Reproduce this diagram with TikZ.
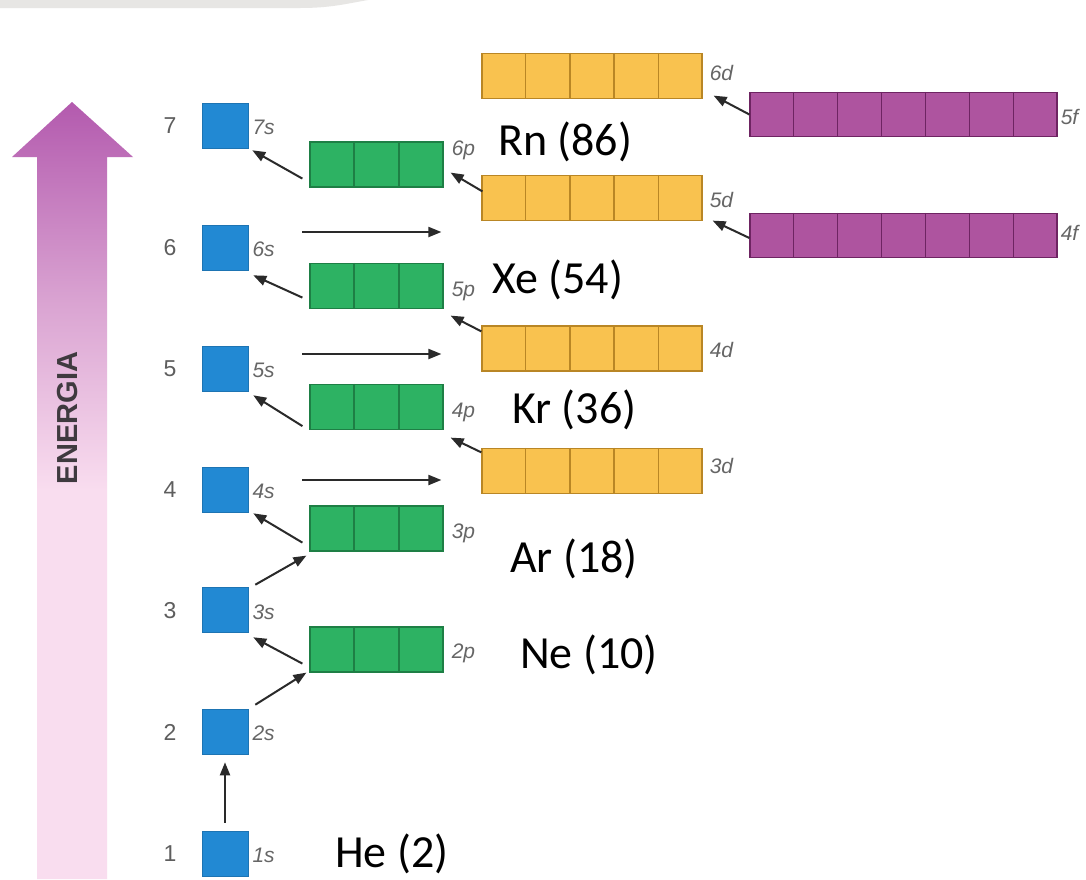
\documentclass[tikz,border=0pt]{standalone}
\usepackage{fontspec}
\setmainfont{Liberation Sans}
\newfontfamily\calibri{Carlito}
\usetikzlibrary{arrows.meta,calc}
\definecolor{sblue}{HTML}{2289D3}
\definecolor{pgreen}{HTML}{2DB263}
\definecolor{pgreenD}{HTML}{1E7F45}
\definecolor{dyellow}{HTML}{F9C24F}
\definecolor{dyellowD}{HTML}{B98625}
\definecolor{fpurple}{HTML}{AE549F}
\definecolor{fpurpleD}{HTML}{6E2462}
\definecolor{lvlgray}{HTML}{5E5E5E}
\definecolor{orbgray}{HTML}{666666}
\definecolor{arrgray}{HTML}{2A2A2A}
\definecolor{elight}{HTML}{F9DDEF}
\definecolor{emid}{HTML}{DAA4D2}
\definecolor{edark}{HTML}{B35AAE}
\definecolor{topgray}{HTML}{E7E6E4}
\definecolor{energtext}{HTML}{3F3A3F}
\pgfdeclareverticalshading{energyshade}{100bp}{color(0bp)=(elight); color(50bp)=(elight); color(62bp)=(emid); color(75bp)=(edark); color(100bp)=(edark)}
\tikzset{
  sbox/.style={fill=sblue, draw=sblue!85!black, line width=0.6pt, minimum width=46pt, minimum height=45pt, inner sep=0pt},
  pbox/.style={fill=pgreen, draw=pgreenD, line width=1.2pt, minimum width=133pt, minimum height=45pt, inner sep=0pt},
  dbox/.style={fill=dyellow, draw=dyellowD, line width=1.2pt, minimum width=220pt, minimum height=45pt, inner sep=0pt},
  fbox/.style={fill=fpurple, draw=fpurpleD, line width=1.2pt, minimum width=307pt, minimum height=44pt, inner sep=0pt},
  lvl/.style={font=\fontsize{23}{23}\selectfont, text=lvlgray, inner sep=0pt},
  orb/.style={font=\itshape\fontsize{21}{21}\selectfont, text=orbgray, anchor=west, inner sep=0pt},
  elem/.style={font=\calibri\fontsize{46}{46}\selectfont, anchor=base west, inner sep=0pt},
  arr/.style={draw=arrgray, line width=2pt, -{Triangle[length=13pt,width=10pt]}},
}
\begin{document}
\begin{tikzpicture}[x=1pt,y=-1pt]
\useasboundingbox (0,0) rectangle (1086,879);
\fill[white] (0,0) rectangle (1086,879);
% top grey strip
\fill[topgray] (0,0) -- (0,8) -- (300,8) .. controls (330,8) and (345,4) .. (368,0) -- cycle;
% energy arrow
\shade[shading=energyshade] (72,102) -- (133,157) -- (107,157) -- (107,879) -- (37,879) -- (37,157) -- (12,157) -- cycle;
\node[rotate=90, font=\bfseries\fontsize{29}{29}\selectfont, text=energtext, inner sep=0pt] (energ) at (68,418) {ENERGIA};

% s boxes
\node[sbox] (s7) at (225,125.5) {};
\node[sbox] (s6) at (225,247.5) {};
\node[sbox] (s5) at (225,368.5) {};
\node[sbox] (s4) at (225,489.5) {};
\node[sbox] (s3) at (225,610) {};
\node[sbox] (s2) at (225,731.5) {};
\node[sbox] (s1) at (225,853.5) {};
% p boxes
\node[pbox] (p6) at (376.5,164.5) {};
\node[pbox] (p5) at (376.5,286) {};
\node[pbox] (p4) at (376.5,407) {};
\node[pbox] (p3) at (376.5,528.5) {};
\node[pbox] (p2) at (376.5,649.5) {};
% d boxes
\node[dbox] (d6) at (592,76) {};
\node[dbox] (d5) at (592,198) {};
\node[dbox] (d4) at (592,348.5) {};
\node[dbox] (d3) at (592,471) {};
% f boxes
\node[fbox] (f5) at (903.5,114.5) {};
\node[fbox] (f4) at (903.5,235.5) {};
% cell dividers
\foreach \b/\n/\c in {p6/3/pgreenD,p5/3/pgreenD,p4/3/pgreenD,p3/3/pgreenD,p2/3/pgreenD,d6/5/dyellowD,d5/5/dyellowD,d4/5/dyellowD,d3/5/dyellowD,f5/7/fpurpleD,f4/7/fpurpleD}{
  \pgfmathtruncatemacro\m{\n-1}
  \foreach \i in {1,...,\m}
    \draw[\c, line width=1.5pt] ($(\b.north west)!\i/\n!(\b.north east)$) -- ($(\b.south west)!\i/\n!(\b.south east)$);
}

% level numbers
\node[lvl] (n7) at (170,126) {7};
\node[lvl] (n6) at (170,248) {6};
\node[lvl] (n5) at (170,369) {5};
\node[lvl] (n4) at (170,490) {4};
\node[lvl] (n3) at (170,611) {3};
\node[lvl] (n2) at (170,732) {2};
\node[lvl] (n1) at (170,854) {1};

% orbital labels
\node[orb] (l7s) at ([xshift=4pt,yshift=-2pt]s7.east) {7s};
\node[orb] (l6s) at ([xshift=4pt,yshift=-2pt]s6.east) {6s};
\node[orb] (l5s) at ([xshift=4pt,yshift=-2pt]s5.east) {5s};
\node[orb] (l4s) at ([xshift=4pt,yshift=-2pt]s4.east) {4s};
\node[orb] (l3s) at ([xshift=4pt,yshift=-2pt]s3.east) {3s};
\node[orb] (l2s) at ([xshift=4pt,yshift=-2pt]s2.east) {2s};
\node[orb] (l1s) at ([xshift=4pt,yshift=-2pt]s1.east) {1s};
\node[orb] (l6p) at ([xshift=8pt,yshift=14.5pt]p6.east) {6p};
\node[orb] (l5p) at ([xshift=8pt,yshift=-5pt]p5.east) {5p};
\node[orb] (l4p) at ([xshift=8pt,yshift=-5pt]p4.east) {4p};
\node[orb] (l3p) at ([xshift=8pt,yshift=-4.5pt]p3.east) {3p};
\node[orb] (l2p) at ([xshift=8pt,yshift=-3.5pt]p2.east) {2p};
\node[orb] (l6d) at ([xshift=7pt,yshift=3pt]d6.east) {6d};
\node[orb] (l5d) at ([xshift=7pt,yshift=-2pt]d5.east) {5d};
\node[orb] (l4d) at ([xshift=7pt,yshift=-1.5pt]d4.east) {4d};
\node[orb] (l3d) at ([xshift=7pt,yshift=5pt]d3.east) {3d};
\node[orb] (l5f) at ([xshift=3pt,yshift=-2.5pt]f5.east) {5f};
\node[orb] (l4f) at ([xshift=3pt,yshift=2.5pt]f4.east) {4f};

% element labels
\node[elem] (rn) at (498,155) {Rn (86)};
\node[elem] (xe) at (492,293) {Xe (54)};
\node[elem] (kr) at (512,423) {Kr (36)};
\node[elem] (ar) at (510,572) {Ar (18)};
\node[elem] (ne) at (520,668) {Ne (10)};
\node[elem] (he) at (335,867) {He (2)};

% filling-order arrows
\draw[arr] ([yshift=8pt]s1.north) -- ([yshift=-8pt]s2.south);
\draw[arr] ([xshift=7pt,yshift=4pt]s2.north east) -- ([xshift=-3pt]p2.south west);
\draw[arr] ([xshift=-7pt,yshift=9pt]p2.south west) -- ([xshift=5pt,yshift=-4.5pt]s3.south east);
\draw[arr] ([xshift=7pt,yshift=2.5pt]s3.north east) -- ([xshift=-3pt,yshift=-4pt]p3.south west);
\draw[arr] ([xshift=-7pt,yshift=9pt]p3.south west) -- ([xshift=5pt,yshift=-1pt]s4.south east);
\draw[arr] ([xshift=-7pt,yshift=4pt]p4.south west) -- ([xshift=5pt,yshift=-4pt]s5.south east);
\draw[arr] ([xshift=-7pt,yshift=11.5pt]p5.south west) -- ([xshift=5pt,yshift=-5pt]s6.south east);
\draw[arr] ([xshift=-7pt,yshift=9pt]p6.south west) -- ([xshift=4pt,yshift=-2pt]s7.south east);

\coordinate (h4) at ([xshift=54pt,yshift=9.5pt]s4.east);
\coordinate (h5) at ([xshift=54pt,yshift=14.5pt]s5.east);
\coordinate (h6) at ([xshift=54pt,yshift=15.5pt]s6.east);
\draw[arr, shorten >=40pt] (h4) -- (h4 -| d3.west);
\draw[arr, shorten >=40pt] (h5) -- (h5 -| d4.west);
\draw[arr, shorten >=40pt] (h6) -- (h6 -| d5.west);

\draw[arr] ([xshift=1pt,yshift=-16.5pt]d5.north west) -- ([xshift=7pt,yshift=15pt]p6.south east);
\draw[arr] ([yshift=-6pt]d4.north west) -- ([xshift=7pt,yshift=-6.5pt]p5.south east);
\draw[arr] ([yshift=-4.5pt]d3.north west) -- ([xshift=7pt,yshift=-7.5pt]p4.south east);
\draw[arr] (f5.west) -- ([xshift=11pt,yshift=3.5pt]d6.south east);
\draw[arr] ([yshift=-2.5pt]f4.west) -- ([xshift=10pt,yshift=0.5pt]d5.south east);
\end{tikzpicture}
\end{document}
